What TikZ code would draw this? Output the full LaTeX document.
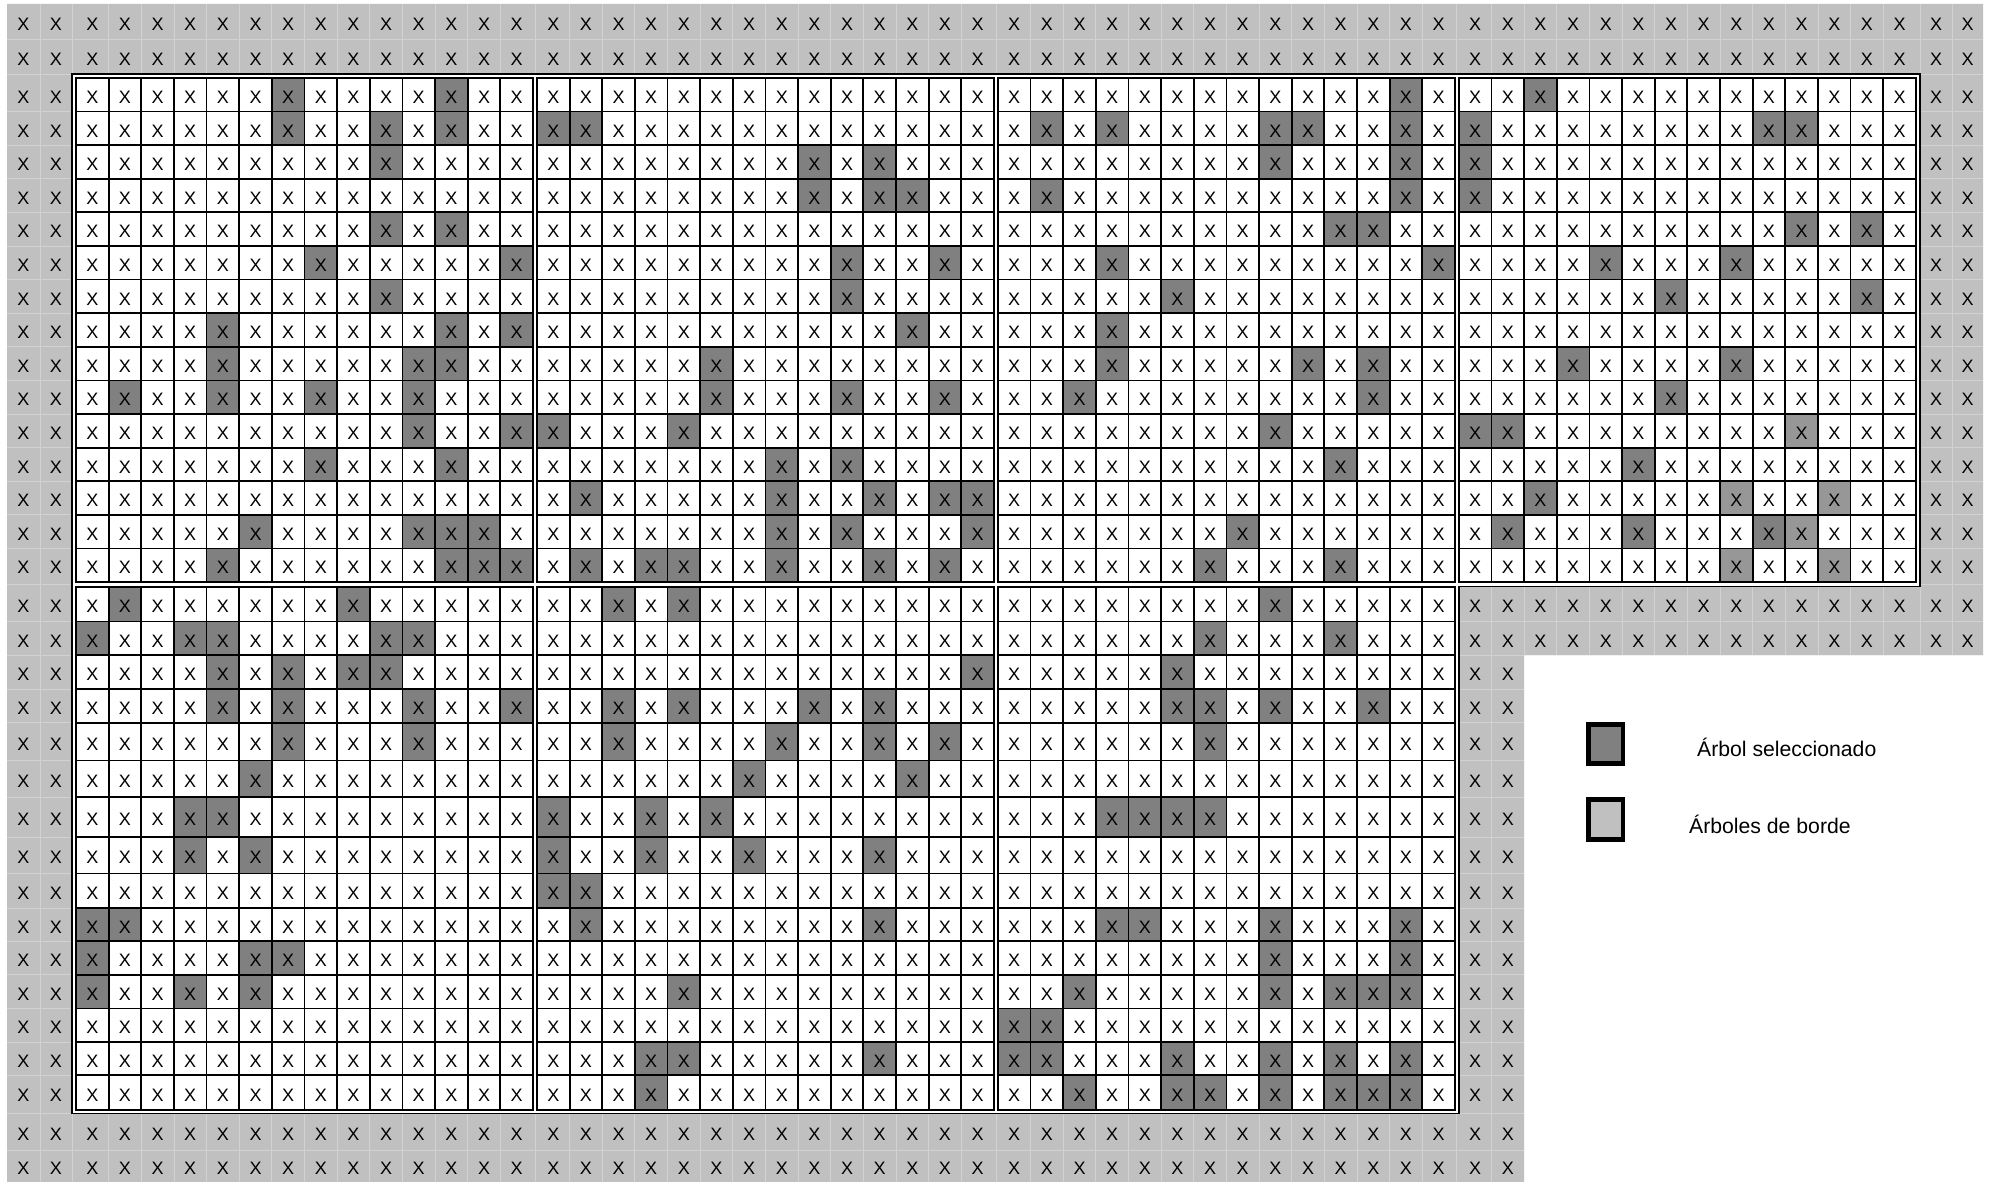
\documentclass[tikz,border=0pt]{standalone}
\usepackage{fontspec}
\setmainfont{Liberation Sans}
\definecolor{selc}{HTML}{808080}
\definecolor{selb}{HTML}{979797}
\definecolor{bordc}{HTML}{C0C0C0}
\definecolor{faint}{HTML}{D2D2D2}
\def\bl{{587,621.5,655.2,689,722.7,760.4,797.3,837,873.5,908,941,974.7,1008.4,1042.1,1075,1109.6}}
\newcommand\darkT[4][selc]{%
  \foreach \c in {#4}{\fill[#1] ({76+#2*460.96+(\c-1)*32.64},{78+(#3-1)*33.6}) rectangle ({76+#2*460.96+\c*32.64},{78+#3*33.6});}}
\newcommand\darkB[4][selc]{%
  \pgfmathsetmacro\dya{\bl[#3-1]}\pgfmathsetmacro\dyb{\bl[#3]}%
  \foreach \c in {#4}{\fill[#1] ({76+#2*460.96+(\c-1)*32.64},\dya) rectangle ({76+#2*460.96+\c*32.64},\dyb);}}
\newcommand\rowmid[1]{%
  \pgfmathsetmacro\rma{\bl[#1-1]}\pgfmathsetmacro\rmb{\bl[#1]}%
  \pgfmathsetmacro\yq{(\rma+\rmb)/2+2.5}}
\begin{document}
\begin{tikzpicture}[x=1pt,y=-1pt,
  xmark/.style={inner sep=0pt, font=\fontsize{18}{18}\selectfont},
  gridline/.style={line width=1.8pt, draw=black},
  outerline/.style={line width=1.5pt, draw=black},
  faintline/.style={draw=faint, line width=0.8pt},
  legtext/.style={anchor=west, inner sep=0pt, font=\fontsize{21.2}{24}\selectfont},
  legbox/.style={line width=4.5pt, draw=black}]
\useasboundingbox (0,0) rectangle (2000,1182);
\fill[white] (0,0) rectangle (2000,1182);
% border-tree area
\fill[bordc] (7,4) -- (1983,4) -- (1983,655.2) -- (1524,655.2) -- (1524,1182) -- (7,1182) -- cycle;
\begin{scope}
  \clip (7,4) -- (1983,4) -- (1983,655.2) -- (1524,655.2) -- (1524,1182) -- (7,1182) -- cycle;
  \foreach \xx in {40,72,534.96,995.92,1456.88,1920,1952}{\draw[faintline] (\xx,0) -- (\xx,1182);}
  \foreach \p in {0,...,3}{\foreach \c in {1,...,13}{\draw[faintline] ({76+\p*460.96+\c*32.64},0) -- ({76+\p*460.96+\c*32.64},1182);}}
  \foreach \yy in {39,74,584.75,1113.6,1150}{\draw[faintline] (0,\yy) -- (2000,\yy);}
  \foreach \r in {1,...,14}{\draw[faintline] (0,{78+\r*33.6}) -- (2000,{78+\r*33.6});
    \pgfmathsetmacro\fy{\bl[\r]}\draw[faintline] (0,\fy) -- (2000,\fy);}
\end{scope}
% plot area with double outline
\filldraw[fill=white, outerline] (72,74) -- (1920,74) -- (1920,586.5) -- (1459,586.5) -- (1459,1113.6) -- (72,1113.6) -- cycle;
% selected trees, top plots
\darkT{0}{1}{7,12}
\darkT{0}{2}{7,10,12}
\darkT{0}{3}{10}
\darkT{0}{5}{10,12}
\darkT{0}{6}{8,14}
\darkT{0}{7}{10}
\darkT{0}{8}{5,12,14}
\darkT{0}{9}{5,11,12}
\darkT{0}{10}{2,5,8,11}
\darkT{0}{11}{11,14}
\darkT{0}{12}{8,12}
\darkT{0}{14}{6,11,12,13}
\darkT{0}{15}{5,12,13,14}
\darkT{1}{2}{1,2}
\darkT{1}{3}{9,11}
\darkT{1}{4}{9,11,12}
\darkT{1}{6}{10,13}
\darkT{1}{7}{10}
\darkT{1}{8}{12}
\darkT{1}{9}{6}
\darkT{1}{10}{6,10,13}
\darkT{1}{11}{1,5}
\darkT{1}{12}{8,10}
\darkT{1}{13}{2,8,11,13,14}
\darkT{1}{14}{8,10,14}
\darkT{1}{15}{2,4,5,8,11,13}
\darkT{2}{1}{13}
\darkT{2}{2}{2,4,9,10,13}
\darkT{2}{3}{9,13}
\darkT{2}{4}{2,13}
\darkT{2}{5}{11,12}
\darkT{2}{6}{4,14}
\darkT{2}{7}{6}
\darkT{2}{8}{4}
\darkT{2}{9}{4,10,12}
\darkT{2}{10}{3,12}
\darkT{2}{11}{9}
\darkT{2}{12}{11}
\darkT{2}{14}{8}
\darkT{2}{15}{7,11}
\darkT{3}{1}{3}
\darkT{3}{2}{1,10,11}
\darkT{3}{3}{1}
\darkT{3}{4}{1}
\darkT{3}{5}{11,13}
\darkT{3}{6}{5,9}
\darkT{3}{7}{7,13}
\darkT{3}{9}{4,9}
\darkT{3}{10}{7}
\darkT{3}{11}{1,2}
\darkT[selb]{3}{11}{11}
\darkT{3}{12}{6}
\darkT{3}{13}{3}
\darkT[selb]{3}{13}{9,12}
\darkT{3}{14}{2,6,10}
\darkT[selb]{3}{14}{11}
\darkT[selb]{3}{15}{9,12}
% selected trees, bottom plots
\darkB{0}{1}{2,9}
\darkB{0}{2}{1,4,5,10,11}
\darkB{0}{3}{5,7,9,10}
\darkB{0}{4}{5,7,11,14}
\darkB{0}{5}{7,11}
\darkB{0}{6}{6}
\darkB{0}{7}{4,5}
\darkB{0}{8}{4,6}
\darkB{0}{10}{1,2}
\darkB{0}{11}{1,6,7}
\darkB{0}{12}{1,4,6}
\darkB{1}{1}{3,5}
\darkB{1}{3}{14}
\darkB{1}{4}{3,5,9,11}
\darkB{1}{5}{3,8,11,13}
\darkB{1}{6}{7,12}
\darkB{1}{7}{1,4,6}
\darkB{1}{8}{1,4,7,11}
\darkB{1}{9}{1,2}
\darkB{1}{10}{2,11}
\darkB{1}{12}{5}
\darkB{1}{14}{4,5,11}
\darkB{1}{15}{4}
\darkB{2}{1}{9}
\darkB{2}{2}{7,11}
\darkB{2}{3}{6}
\darkB{2}{4}{6,7,9,12}
\darkB{2}{5}{7}
\darkB{2}{7}{4,5,6,7}
\darkB{2}{10}{4,5,9,13}
\darkB{2}{11}{9,13}
\darkB{2}{12}{3,9,11,12,13}
\darkB{2}{13}{1,2}
\darkB{2}{14}{1,2,6,9,11,13}
\darkB{2}{15}{3,6,7,9,11,12,13}
% grids of the plots
\foreach \p in {0,...,3}{
  \foreach \c in {0,...,14}{\draw[gridline] ({76+\p*460.96+\c*32.64},78) -- ({76+\p*460.96+\c*32.64},582);}
  \foreach \r in {0,...,15}{\draw[gridline, line cap=rect] ({76+\p*460.96},{78+\r*33.6}) -- ({76+\p*460.96+456.96},{78+\r*33.6});}
}
\foreach \p in {0,...,2}{
  \foreach \c in {0,...,14}{\draw[gridline] ({76+\p*460.96+\c*32.64},587) -- ({76+\p*460.96+\c*32.64},1109.6);}
  \foreach \r in {0,...,15}{\pgfmathsetmacro\gy{\bl[\r]}\draw[gridline, line cap=rect] ({76+\p*460.96},\gy) -- ({76+\p*460.96+456.96},\gy);}
}
% X marks in plot cells and side border cells
\foreach \r in {1,...,15}{
  \pgfmathsetmacro\yt{78+(\r-0.5)*33.6+2.5}
  \rowmid{\r}
  \foreach \c in {1,...,14}{
    \foreach \p in {0,...,3}{\node[xmark] (pt-\p-\c-\r) at ({76+\p*460.96+(\c-0.5)*32.64},\yt) {X};}
    \foreach \p in {0,...,2}{\node[xmark] (pb-\p-\c-\r) at ({76+\p*460.96+(\c-0.5)*32.64},\yq) {X};}
  }
  \node[xmark] (glt-\r-1) at (23.5,\yt) {X};
  \node[xmark] (glt-\r-2) at (56,\yt) {X};
  \node[xmark] (glb-\r-1) at (23.5,\yq) {X};
  \node[xmark] (glb-\r-2) at (56,\yq) {X};
  \node[xmark] (grt-\r-1) at (1936,\yt) {X};
  \node[xmark] (grt-\r-2) at (1967.5,\yt) {X};
}
% border rows under plot 4
\foreach \r in {1,2}{
  \rowmid{\r}
  \foreach \c in {1,...,14}{\node[xmark] (gu-\c-\r) at ({76+3*460.96+(\c-0.5)*32.64},\yq) {X};}
  \node[xmark] (gur-\r-1) at (1936,\yq) {X};
  \node[xmark] (gur-\r-2) at (1967.5,\yq) {X};
}
% border strip right of bottom plots
\foreach \r in {3,...,15}{
  \rowmid{\r}
  \foreach \c in {1,2}{\node[xmark] (gs-\c-\r) at ({76+3*460.96+(\c-0.5)*32.64},\yq) {X};}
}
% top border rows
\foreach \yy/\k in {21.5/1,56.5/2}{
  \foreach \xx/\m in {23.5/1,56/2,1936/3,1967.5/4}{\node[xmark] (gt-\k-\m) at (\xx,{\yy+2.5}) {X};}
  \foreach \p in {0,...,3}{\foreach \c in {1,...,14}{\node[xmark] (gtp-\k-\p-\c) at ({76+\p*460.96+(\c-0.5)*32.64},{\yy+2.5}) {X};}}
}
% bottom border rows
\foreach \yy/\k in {1131.8/1,1166/2}{
  \foreach \xx/\m in {23.5/1,56/2}{\node[xmark] (gb-\k-\m) at (\xx,{\yy+2.5}) {X};}
  \foreach \p in {0,...,2}{\foreach \c in {1,...,14}{\node[xmark] (gbp-\k-\p-\c) at ({76+\p*460.96+(\c-0.5)*32.64},{\yy+2.5}) {X};}}
  \foreach \c in {1,2}{\node[xmark] (gbs-\k-\c) at ({76+3*460.96+(\c-0.5)*32.64},{\yy+2.5}) {X};}
}
% legend
\draw[legbox, fill=selc] (1588.5,724.5) rectangle (1623,763.5);
\draw[legbox, fill=bordc] (1588.5,799.5) rectangle (1623,839.5);
\node[legtext] (leg1) at (1697,747) {Árbol seleccionado};
\node[legtext] (leg2) at (1689,824) {Árboles de borde};
\end{tikzpicture}
\end{document}
